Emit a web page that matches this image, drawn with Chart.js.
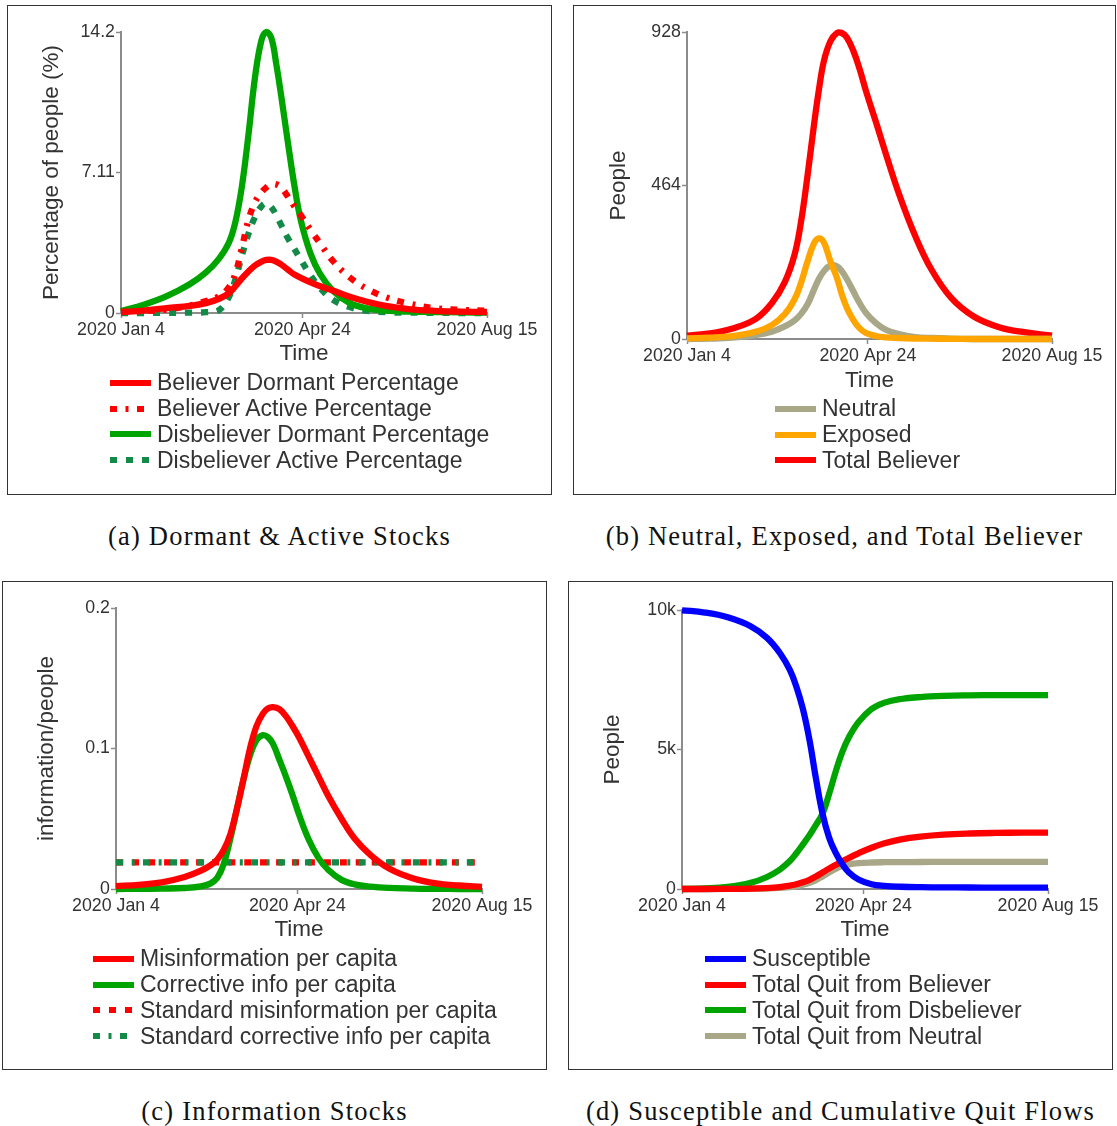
<!DOCTYPE html>
<html>
<head>
<meta charset="utf-8">
<script src="https://cdn.jsdelivr.net/npm/chart.js@4.4.1/dist/chart.umd.min.js"></script>
<style>
  body { margin: 0; background: #fff; }
  #page { position: relative; width: 1117px; height: 1126px; overflow: hidden; }
  .panel { position: absolute; border: 1px solid #333; box-sizing: border-box; }
  .panel canvas { position: absolute; left: 0; top: 0; }
  .legend { position: absolute; font-family: "Liberation Sans", Arial, sans-serif; font-size: 23px; color: #333; }
  .legend .row { display: flex; align-items: center; height: 25.7px; white-space: nowrap; }
  .legend svg { margin-right: 6px; flex: none; }
  .caption { position: absolute; font-family: "Liberation Serif", "Times New Roman", serif; font-size: 26.5px;
             color: #111; white-space: nowrap; transform: translate(-50%, -50%); letter-spacing: 1.2px; }
</style>
</head>
<body>
<div id="page"></div>
<script>
// time axis is in days counted from 2020 Jan 4
const xTickDays = [0, 111, 224];
const xTickLabels = ['2020 Jan 4', '2020 Apr 24', '2020 Aug 15'];

// (a) dormant & active stocks, % of people
const daysA = [0, 14, 28, 42, 52, 60, 66, 70, 74, 78, 82, 86, 89, 92, 95, 98, 102, 106, 110, 116, 122, 130, 140, 150, 162, 176, 192, 208, 224];
const believerDormantPct    = [0.05, 0.12, 0.25, 0.36, 0.5, 0.72, 1.0, 1.35, 1.75, 2.1, 2.4, 2.6, 2.68, 2.68, 2.6, 2.45, 2.2, 1.95, 1.78, 1.55, 1.35, 1.12, 0.82, 0.58, 0.36, 0.2, 0.11, 0.07, 0.05];
const believerActivePct     = [0.05, 0.1, 0.17, 0.38, 0.6, 0.85, 1.3, 2.0, 3.3, 4.7, 5.6, 6.1, 6.35, 6.5, 6.5, 6.35, 5.9, 5.4, 4.95, 4.2, 3.5, 2.6, 1.8, 1.25, 0.8, 0.48, 0.25, 0.16, 0.12];
const disbeliverDormantPct  = [0.1, 0.42, 0.85, 1.45, 2.05, 2.75, 3.55, 4.6, 6.4, 9.0, 11.9, 13.8, 14.2, 13.9, 12.6, 11.0, 8.7, 6.5, 4.7, 3.0, 1.95, 1.1, 0.5, 0.25, 0.12, 0.07, 0.05, 0.03, 0.02];
const disbeliverActivePct   = [0, 0, 0.01, 0.02, 0.04, 0.15, 0.8, 1.7, 2.9, 4.0, 4.85, 5.4, 5.55, 5.35, 4.95, 4.45, 3.8, 3.25, 2.7, 1.9, 1.25, 0.65, 0.3, 0.12, 0.04, 0.02, 0.01, 0, 0];
const yTicksA = [0, 7.11, 14.2];
const yTickLabelsA = ['0', '7.11', '14.2'];

// (b) neutral, exposed and total believer, people
const daysB = [0, 14, 28, 42, 52, 60, 66, 70, 74, 78, 81, 84, 88, 92, 95, 98, 102, 106, 110, 116, 122, 130, 140, 150, 162, 176, 192, 208, 224];
const neutralPeople       = [0, 1, 4, 12, 22, 38, 56, 76, 105, 150, 182, 205, 222, 220, 205, 182, 145, 108, 78, 48, 28, 15, 6, 3, 1, 0, 0, 0, 0];
const exposedPeople       = [2, 4, 9, 22, 42, 75, 120, 170, 235, 290, 304, 292, 235, 185, 135, 95, 58, 32, 18, 9, 5, 3, 1.5, 1, 0.5, 0, 0, 0, 0];
const totalBelieverPeople = [10, 17, 32, 60, 108, 172, 255, 355, 495, 650, 755, 840, 900, 925, 925, 912, 872, 815, 747, 655, 560, 440, 312, 210, 125, 68, 35, 20, 10];
const yTicksB = [0, 464, 928];
const yTickLabelsB = ['0', '464', '928'];

// (c) information stocks, information per person
const daysC = [0, 14, 28, 42, 52, 58, 62, 66, 70, 74, 78, 82, 86, 90, 93, 96, 100, 104, 108, 112, 118, 124, 130, 138, 146, 156, 168, 182, 196, 210, 224];
const misinfoPerCapita    = [0.002, 0.003, 0.0047, 0.0085, 0.013, 0.017, 0.021, 0.028, 0.039, 0.057, 0.078, 0.1, 0.116, 0.125, 0.1285, 0.1295, 0.128, 0.123, 0.116, 0.108, 0.094, 0.08, 0.066, 0.05, 0.036, 0.024, 0.014, 0.0075, 0.004, 0.0025, 0.0015];
const correctivePerCapita = [0, 0.0001, 0.0003, 0.0007, 0.0018, 0.004, 0.008, 0.018, 0.036, 0.057, 0.078, 0.095, 0.106, 0.1095, 0.108, 0.1035, 0.092, 0.08, 0.067, 0.053, 0.035, 0.022, 0.0135, 0.0065, 0.0033, 0.0017, 0.0008, 0.0003, 0.0001, 0, 0];
const stdDays = [0, 224];
const stdMisinfoPerCapita    = [0.019, 0.019];
const stdCorrectivePerCapita = [0.019, 0.019];
const yTicksC = [0, 0.1, 0.2];
const yTickLabelsC = ['0', '0.1', '0.2'];

// (d) susceptible and cumulative quit flows, people
const daysD = [0, 14, 28, 42, 52, 60, 66, 70, 74, 78, 82, 86, 90, 94, 98, 102, 108, 116, 124, 134, 146, 160, 176, 192, 208, 224];
const susceptible     = [9990, 9910, 9740, 9420, 9000, 8450, 7850, 7250, 6450, 5350, 3950, 2700, 1850, 1300, 900, 600, 340, 170, 110, 80, 65, 58, 54, 52, 51, 50];
const quitBeliever    = [0, 0, 5, 15, 35, 70, 120, 170, 240, 330, 450, 590, 730, 860, 990, 1110, 1280, 1480, 1640, 1780, 1880, 1950, 1990, 2010, 2020, 2020];
const quitDisbeliever = [0, 20, 75, 220, 430, 700, 1000, 1280, 1600, 1930, 2300, 2700, 3400, 4200, 4900, 5420, 5980, 6450, 6680, 6810, 6880, 6920, 6940, 6950, 6950, 6950];
const quitNeutral     = [0, 0, 2, 8, 20, 40, 70, 100, 150, 220, 320, 450, 590, 720, 820, 880, 925, 950, 960, 965, 968, 970, 970, 970, 970, 970];
const yTicksD = [0, 5000, 10000];
const yTickLabelsD = ['0', '5k', '10k'];

const RED = '#ff0000', GREEN = '#00a400', TEAL = '#138a48', OLIVE = '#a8a888', ORANGE = '#ffa500', BLUE = '#0000ff';
const DASH_DOT = [7, 8.5, 3, 8.5];
const DOTS = [7, 9];
const AXIS = '#8c8c8c';
const SANS = '"Liberation Sans", Arial, sans-serif';

const panels = [
  {
    box: [7, 5, 552, 495], area: [121, 32, 487, 313], yTitleX: 52, xTitleY: 354,
    yTitle: 'Percentage of people (%)', yTicks: yTicksA, yTickLabels: yTickLabelsA,
    days: daysA, legendAt: [110, 383],
    series: [
      { label: 'Believer Dormant Percentage', values: believerDormantPct, color: RED },
      { label: 'Believer Active Percentage', values: believerActivePct, color: RED, dash: DASH_DOT },
      { label: 'Disbeliever Dormant Percentage', values: disbeliverDormantPct, color: GREEN },
      { label: 'Disbeliever Active Percentage', values: disbeliverActivePct, color: TEAL, dash: DOTS }
    ],
    caption: '(a) Dormant & Active Stocks', captionY: 536
  },
  {
    box: [573, 5, 1116, 495], area: [687, 32, 1052, 339], yTitleX: 619, xTitleY: 381,
    yTitle: 'People', yTicks: yTicksB, yTickLabels: yTickLabelsB,
    days: daysB, legendAt: [775, 409],
    series: [
      { label: 'Neutral', values: neutralPeople, color: OLIVE, order: 1 },
      { label: 'Exposed', values: exposedPeople, color: ORANGE, order: 0 },
      { label: 'Total Believer', values: totalBelieverPeople, color: RED, order: 2 }
    ],
    caption: '(b) Neutral, Exposed, and Total Believer', captionY: 536
  },
  {
    box: [2, 581, 547, 1070], area: [116, 608, 482, 889], yTitleX: 47, xTitleY: 930,
    yTitle: 'information/people', yTicks: yTicksC, yTickLabels: yTickLabelsC,
    days: daysC, legendAt: [93, 959],
    series: [
      { label: 'Misinformation per capita', values: misinfoPerCapita, color: RED },
      { label: 'Corrective info per capita', values: correctivePerCapita, color: GREEN },
      { label: 'Standard misinformation per capita', values: stdMisinfoPerCapita, days: stdDays, color: RED, dash: DOTS, order: 2 },
      { label: 'Standard corrective info per capita', values: stdCorrectivePerCapita, days: stdDays, color: TEAL, dash: DASH_DOT, order: 1 }
    ],
    caption: '(c) Information Stocks', captionY: 1111
  },
  {
    box: [568, 581, 1113, 1070], area: [682, 610, 1048, 889], yTitleX: 613, xTitleY: 930,
    yTitle: 'People', yTicks: yTicksD, yTickLabels: yTickLabelsD,
    days: daysD, legendAt: [705, 959],
    series: [
      { label: 'Susceptible', values: susceptible, color: BLUE },
      { label: 'Total Quit from Believer', values: quitBeliever, color: RED },
      { label: 'Total Quit from Disbeliever', values: quitDisbeliever, color: GREEN },
      { label: 'Total Quit from Neutral', values: quitNeutral, color: OLIVE }
    ],
    caption: '(d) Susceptible and Cumulative Quit Flows', captionY: 1111
  }
];

const page = document.getElementById('page');

function swatch(color, dash) {
  const ns = 'http://www.w3.org/2000/svg';
  const svg = document.createElementNS(ns, 'svg');
  svg.setAttribute('width', 41);
  svg.setAttribute('height', 8);
  const line = document.createElementNS(ns, 'line');
  line.setAttribute('x1', 0); line.setAttribute('x2', 41);
  line.setAttribute('y1', 4); line.setAttribute('y2', 4);
  line.setAttribute('stroke', color);
  line.setAttribute('stroke-width', 6);
  if (dash) line.setAttribute('stroke-dasharray', dash.join(' '));
  svg.appendChild(line);
  return svg;
}

function makePanel(p) {
  const [bx0, by0, bx1, by1] = p.box;
  const wrap = document.createElement('div');
  wrap.className = 'panel';
  Object.assign(wrap.style, { left: bx0 + 'px', top: by0 + 'px', width: (bx1 - bx0) + 'px', height: (by1 - by0) + 'px' });
  page.appendChild(wrap);

  // canvas sits just inside the border and ends under the "Time" title
  const cx = bx0 + 1, cy = by0 + 1;
  const cw = bx1 - bx0 - 2;
  const ch = p.xTitleY + 16 - cy;
  const canvas = document.createElement('canvas');
  canvas.width = cw; canvas.height = ch;
  canvas.style.width = cw + 'px'; canvas.style.height = ch + 'px';
  wrap.appendChild(canvas);

  const [ax0, ay0, ax1, ay1] = p.area;
  const titleFont = { family: SANS, size: 22.5 };
  const tickFont = { family: SANS, size: 17.8 };

  new Chart(canvas, {
    type: 'line',
    data: {
      datasets: p.series.map(s => ({
        label: s.label,
        data: (s.days || p.days).map((d, i) => ({ x: d, y: s.values[i] })),
        borderColor: s.color,
        borderWidth: 6.3,
        borderDash: s.dash || [],
        pointRadius: 0,
        tension: 0.4,
        fill: false,
        clip: false,
        order: s.order || 0
      }))
    },
    options: {
      responsive: false,
      animation: false,
      events: [],
      layout: { padding: { left: 0, top: ay0 - cy, right: cx + cw - ax1, bottom: 0 } },
      plugins: { legend: { display: false }, tooltip: { enabled: false } },
      scales: {
        x: {
          type: 'linear', min: 0, max: 224,
          afterBuildTicks: (scale) => { scale.ticks = xTickDays.map(v => ({ value: v })); },
          afterFit: (scale) => { scale.height = cy + ch - ay1; },
          ticks: { autoSkip: false, maxRotation: 0, padding: 1.5, color: '#333', font: tickFont,
                   callback: (v, i) => xTickLabels[i] },
          grid: { drawOnChartArea: false, tickLength: 5, color: AXIS, tickWidth: 1.5 },
          border: { color: AXIS, width: 2 },
          title: { display: true, text: 'Time', color: '#333', font: titleFont, padding: { top: 0, bottom: 2.5 } }
        },
        y: {
          min: 0, max: p.yTicks[p.yTicks.length - 1],
          afterBuildTicks: (scale) => { scale.ticks = p.yTicks.map(v => ({ value: v })); },
          afterFit: (scale) => { scale.width = ax0 - cx; },
          ticks: { autoSkip: false, padding: 1, color: '#333', font: tickFont,
                   callback: (v, i) => p.yTickLabels[i] },
          grid: { drawOnChartArea: false, tickLength: 5, color: AXIS, tickWidth: 1.5 },
          border: { color: AXIS, width: 2 },
          title: { display: true, text: p.yTitle, color: '#333', font: titleFont,
                   padding: { top: p.yTitleX - cx - 13.5, bottom: 0 } }
        }
      }
    }
  });

  // legend: one line per series, thick line swatch then the label
  const legend = document.createElement('div');
  legend.className = 'legend';
  legend.style.left = (p.legendAt[0] - cx) + 'px';
  legend.style.top = (p.legendAt[1] - 12.85 - cy) + 'px';
  p.series.forEach(s => {
    const row = document.createElement('div');
    row.className = 'row';
    row.appendChild(swatch(s.color, s.dash));
    const txt = document.createElement('span');
    txt.textContent = s.label;
    row.appendChild(txt);
    legend.appendChild(row);
  });
  wrap.appendChild(legend);

  const cap = document.createElement('div');
  cap.className = 'caption';
  cap.textContent = p.caption;
  cap.style.left = ((bx0 + bx1) / 2) + 'px';
  cap.style.top = p.captionY + 'px';
  page.appendChild(cap);
}

panels.forEach(makePanel);
</script>
</body>
</html>
